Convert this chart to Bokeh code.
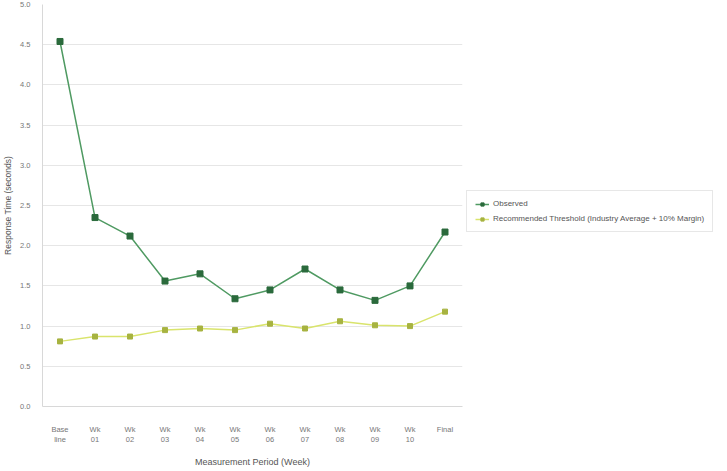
from bokeh.plotting import figure
from bokeh.models import Legend, LegendItem, FixedTicker, Range1d, FactorRange, CustomJSTickFormatter
from bokeh.embed import file_html
from bokeh.resources import INLINE

categories = ["Base\nline", "Wk\n01", "Wk\n02", "Wk\n03", "Wk\n04", "Wk\n05",
              "Wk\n06", "Wk\n07", "Wk\n08", "Wk\n09", "Wk\n10", "Final"]
observed = [4.54, 2.35, 2.12, 1.56, 1.65, 1.34, 1.45, 1.71, 1.45, 1.32, 1.50, 2.17]
standard = [0.81, 0.87, 0.87, 0.95, 0.97, 0.95, 1.03, 0.97, 1.06, 1.01, 1.00, 1.18]
y_ticks = [0.0, 0.5, 1.0, 1.5, 2.0, 2.5, 3.0, 3.5, 4.0, 4.5, 5.0]

FONT = "Liberation Sans"
GREEN_LINE = "#4f9a62"
GREEN_MARK = "#2b6a3c"
YEL_LINE = "#d9e46c"
YEL_MARK = "#a7b340"

p = figure(frame_width=420, frame_height=402, output_backend="svg", toolbar_location=None,
           x_range=FactorRange(*categories, range_padding=0),
           y_range=Range1d(0, 5.0),
           min_border_left=32, min_border_top=4, min_border_bottom=49,
           min_border_right=0)
p.outline_line_color = None
p.background_fill_color = "white"
p.border_fill_color = "white"

r1 = p.line(categories, observed, line_color=GREEN_LINE, line_width=1.5)
m1 = p.scatter(categories, observed, marker="square", size=6,
               fill_color=GREEN_MARK, line_color=GREEN_MARK)
r2 = p.line(categories, standard, line_color=YEL_LINE, line_width=1.5)
m2 = p.scatter(categories, standard, marker="square", size=5,
               fill_color=YEL_MARK, line_color=YEL_MARK)

p.yaxis.ticker = FixedTicker(ticks=y_ticks)
p.yaxis.formatter = CustomJSTickFormatter(code="return tick.toFixed(1);")

for ax in (p.xaxis[0], p.yaxis[0]):
    ax.axis_line_color = "#d8d8d8"
    ax.major_tick_line_color = None
    ax.minor_tick_line_color = None
    ax.major_label_text_font = FONT
    ax.major_label_text_font_size = "7.5px"
    ax.major_label_text_color = "#777777"
    ax.axis_label_text_font = FONT
    ax.axis_label_text_font_size = "9px"
    ax.axis_label_text_font_style = "normal"
    ax.axis_label_text_color = "#555555"

p.yaxis.axis_label_text_font_size = "8.5px"
p.yaxis.axis_label = "Response Time (seconds)"
p.xaxis.axis_label = "Measurement Period (Week)"
p.xaxis.major_label_standoff = 12
p.yaxis.major_label_standoff = 6
p.xaxis.axis_label_standoff = 10
p.yaxis.axis_label_standoff = 4

p.xgrid.grid_line_color = None
p.ygrid.grid_line_color = "#e6e6e6"
p.ygrid.ticker = FixedTicker(ticks=y_ticks)

legend = Legend(items=[
    LegendItem(label="Observed", renderers=[r1, m1]),
    LegendItem(label="Recommended Threshold (Industry Average + 10% Margin)", renderers=[r2, m2]),
], location=(4, 174))
legend.label_text_font = FONT
legend.label_text_font_size = "8px"
legend.label_text_color = "#555555"
legend.border_line_color = "#d0d0d0"
legend.glyph_width = 14
legend.glyph_height = 8
legend.label_height = 8
legend.spacing = 6
legend.padding = 8
legend.margin = 0
legend.label_standoff = 4
p.add_layout(legend, "right")

open("out.html", "w").write(file_html(p, INLINE))
